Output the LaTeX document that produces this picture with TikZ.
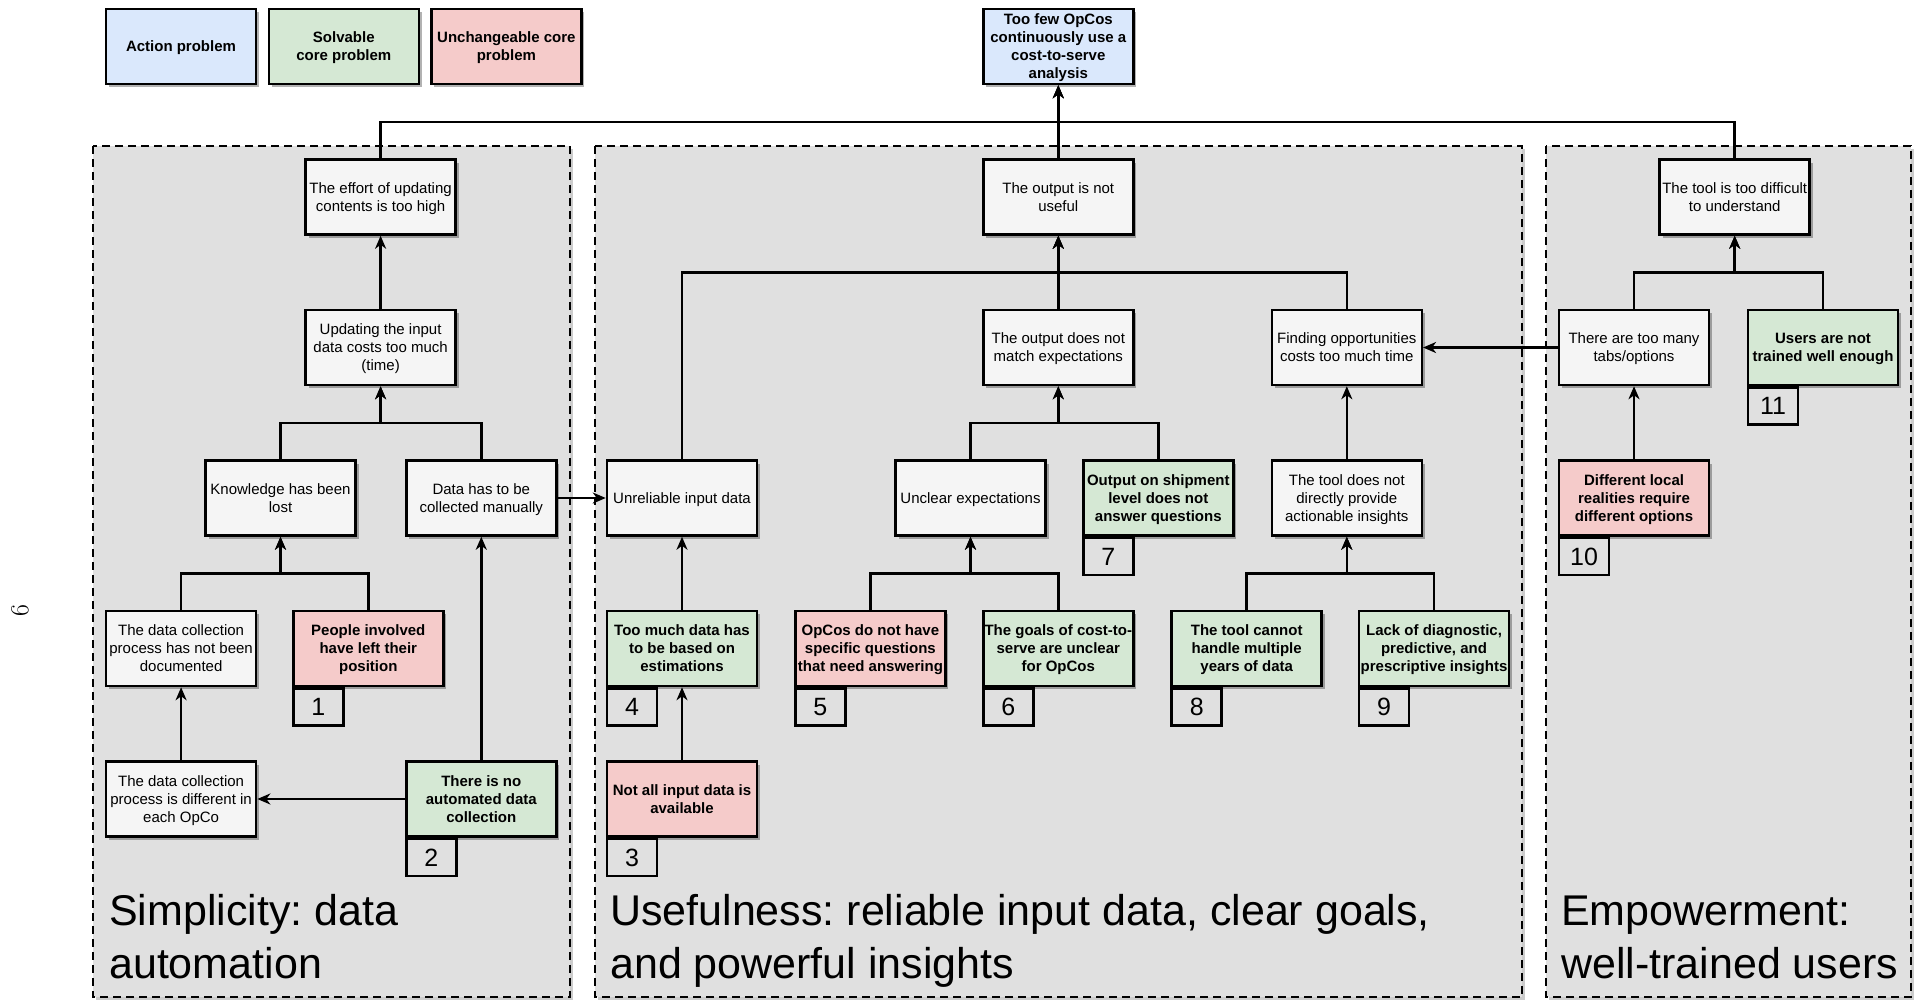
\documentclass[tikz,border=0pt]{standalone}
\usepackage{fontspec}
\newfontfamily\diafont{Liberation Sans}
\usetikzlibrary{arrows.meta,calc,shadows}
\frenchspacing

\definecolor{grpfill}{HTML}{E0E0E0}
\definecolor{boxwhite}{HTML}{F5F5F5}
\definecolor{actblue}{HTML}{DAE8FC}
\definecolor{solvgreen}{HTML}{D5E8D4}
\definecolor{fixred}{HTML}{F5CBCA}

\tikzset{
  boxshadow/.style={drop shadow={shadow xshift=3pt, shadow yshift=-3pt, opacity=0.3, fill=black}},
  box/.style={draw, line width=2.5pt, minimum width=150pt, minimum height=75pt,
    inner sep=0pt, text depth=0pt, align=center, fill=boxwhite, boxshadow,
    font=\diafont\fontsize{15}{18}\selectfont},
  boldbox/.style={box, font=\diafont\fontsize{15}{18}\selectfont\bfseries},
  actbox/.style={boldbox, fill=actblue},
  solvbox/.style={boldbox, fill=solvgreen},
  fixbox/.style={boldbox, fill=fixred},
  numbox/.style={draw, line width=2.5pt, minimum width=50pt, minimum height=37pt,
    inner sep=0pt, anchor=north west, font=\diafont\fontsize{25}{30}\selectfont},
  grp/.style={draw, line width=2.5pt, dash pattern=on 8pt off 5pt, fill=grpfill,
    drop shadow={shadow xshift=3pt, shadow yshift=-3pt, opacity=0.2, fill=black}},
  grptitle/.style={anchor=base west, inner sep=0pt, font=\diafont\fontsize{43}{53}\selectfont},
  arr/.style={line width=2.5pt, -{Stealth[length=13pt, width=11pt, inset=4pt]}},
}

\begin{document}
\begin{tikzpicture}[x=1pt, y=-1pt]
\useasboundingbox (0,0) rectangle (1925,1002);

% page number of the rotated page
\node[rotate=90, inner sep=0pt, font=\fontsize{26}{30}\selectfont] (pagenum) at (20,611) {6};

% theme groups
\draw[grp] (93,146) rectangle (570,997);
\draw[grp] (595,146) rectangle (1522,997);
\draw[grp] (1546,146) rectangle (1911,997);

\node[grptitle] (tSimA) at (109,925) {Simplicity: data};
\node[grptitle] (tSimB) at (109,978) {automation};
\node[grptitle] (tUseA) at (610,925) {Usefulness: reliable input data, clear goals,};
\node[grptitle] (tUseB) at (610,978) {and powerful insights};
\node[grptitle] (tEmpA) at (1561,925) {Empowerment:};
\node[grptitle] (tEmpB) at (1561,978) {well-trained users};

% legend
\node[actbox]  (legAct)  at (181,46.5) {Action problem};
\node[solvbox] (legSolv) at (343.8,46.5) {Solvable\\core problem};
\node[fixbox]  (legFix)  at (506.4,46.5) {Unchangeable core\\problem};

% top problem
\node[actbox] (top) at (1058.3,46.5) {Too few OpCos\\continuously use a\\cost-to-serve\\analysis};

% row 1
\node[box] (effort)    at (380.6,197) {The effort of updating\\contents is too high};
\node[box] (notuseful) at (1058.3,197) {The output is not\\useful};
\node[box] (difficult) at (1734.7,197) {The tool is too difficult\\to understand};

% row 2
\node[box] (updating) at (380.6,347.5) {Updating the input\\data costs too much\\(time)};
\node[box] (match)    at (1058.3,347.5) {The output does not\\match expectations};
\node[box] (finding)  at (1346.8,347.5) {Finding opportunities\\costs too much time};
\node[box] (tabs)     at (1634,347.5) {There are too many\\tabs/options};
\node[solvbox] (trained) at (1823,347.5) {Users are not\\trained well enough};

% row 3
\node[box] (knowledge) at (280.5,498) {Knowledge has been\\lost};
\node[box] (manual)    at (481.3,498) {Data has to be\\collected manually};
\node[box] (unrel)     at (682,498) {Unreliable input data};
\node[box] (unclear)   at (970.5,498) {Unclear expectations};
\node[solvbox] (shipment) at (1158.3,498) {Output on shipment\\level does not\\answer questions};
\node[box] (notdirect) at (1346.8,498) {The tool does not\\directly provide\\actionable insights};
\node[fixbox] (localreal) at (1634,498) {Different local\\realities require\\different options};

% row 4
\node[box] (documented) at (181.1,648.5) {The data collection\\process has not been\\documented};
\node[fixbox] (leftpos)    at (368.3,648.5) {People involved\\have left their\\position};
\node[solvbox] (toomuch)   at (682,648.5) {Too much data has\\to be based on\\estimations};
\node[fixbox] (noquest)    at (870.4,648.5) {OpCos do not have\\specific questions\\that need answering};
\node[solvbox] (goals)     at (1058.3,648.5) {The goals of cost-to-\\serve are unclear\\for OpCos};
\node[solvbox] (multiyear) at (1246.7,648.5) {The tool cannot\\handle multiple\\years of data};
\node[solvbox] (diagnostic) at (1434,648.5) {Lack of diagnostic,\\predictive, and\\prescriptive insights};

% row 5
\node[box] (perOpCo)  at (181.1,799) {The data collection\\process is different in\\each OpCo};
\node[solvbox] (noauto) at (481.3,799) {There is no\\automated data\\collection};
\node[fixbox] (notall)  at (682,799) {Not all input data is\\available};

% numbered core problems
\node[numbox] (n1)  at (leftpos.south west) {1};
\node[numbox] (n2)  at (noauto.south west) {2};
\node[numbox] (n3)  at (notall.south west) {3};
\node[numbox] (n4)  at (toomuch.south west) {4};
\node[numbox] (n5)  at (noquest.south west) {5};
\node[numbox] (n6)  at (goals.south west) {6};
\node[numbox] (n7)  at (shipment.south west) {7};
\node[numbox] (n8)  at (multiyear.south west) {8};
\node[numbox] (n9)  at (diagnostic.south west) {9};
\node[numbox] (n10) at (localreal.south west) {10};
\node[numbox] (n11) at (trained.south west) {11};

% connectors to the top problem
\draw[arr] (effort.north) |- ($(effort.north)!.5!(top.south)$) -| (top.south);
\draw[arr] (difficult.north) |- ($(difficult.north)!.5!(top.south)$) -| (top.south);
\draw[arr] (notuseful.north) -- (top.south);

% simplicity branch
\draw[arr] (updating.north) -- (effort.south);
\draw[arr] (knowledge.north) |- ($(knowledge.north)!.5!(updating.south)$) -| (updating.south);
\draw[arr] (manual.north) |- ($(manual.north)!.5!(updating.south)$) -| (updating.south);
\draw[arr] (documented.north) |- ($(documented.north)!.5!(knowledge.south)$) -| (knowledge.south);
\draw[arr] (leftpos.north) |- ($(leftpos.north)!.5!(knowledge.south)$) -| (knowledge.south);
\draw[arr] (perOpCo.north) -- (documented.south);
\draw[arr] (noauto.north) -- (manual.south);
\draw[arr] (noauto.west) -- (perOpCo.east);
\draw[arr] (manual.east) -- (unrel.west);

% usefulness branch
\draw[arr] (match.north) -- (notuseful.south);
\draw[arr] (unrel.north) |- ($(match.north)!.5!(notuseful.south)$) -| (notuseful.south);
\draw[arr] (finding.north) |- ($(finding.north)!.5!(notuseful.south)$) -| (notuseful.south);
\draw[arr] (unclear.north) |- ($(unclear.north)!.5!(match.south)$) -| (match.south);
\draw[arr] (shipment.north) |- ($(shipment.north)!.5!(match.south)$) -| (match.south);
\draw[arr] (noquest.north) |- ($(noquest.north)!.5!(unclear.south)$) -| (unclear.south);
\draw[arr] (goals.north) |- ($(goals.north)!.5!(unclear.south)$) -| (unclear.south);
\draw[arr] (toomuch.north) -- (unrel.south);
\draw[arr] (notall.north) -- (toomuch.south);
\draw[arr] (notdirect.north) -- (finding.south);
\draw[arr] (multiyear.north) |- ($(multiyear.north)!.5!(notdirect.south)$) -| (notdirect.south);
\draw[arr] (diagnostic.north) |- ($(diagnostic.north)!.5!(notdirect.south)$) -| (notdirect.south);

% empowerment branch
\draw[arr] (tabs.west) -- (finding.east);
\draw[arr] (tabs.north) |- ($(tabs.north)!.5!(difficult.south)$) -| (difficult.south);
\draw[arr] (trained.north) |- ($(trained.north)!.5!(difficult.south)$) -| (difficult.south);
\draw[arr] (localreal.north) -- (tabs.south);
\end{tikzpicture}
\end{document}
